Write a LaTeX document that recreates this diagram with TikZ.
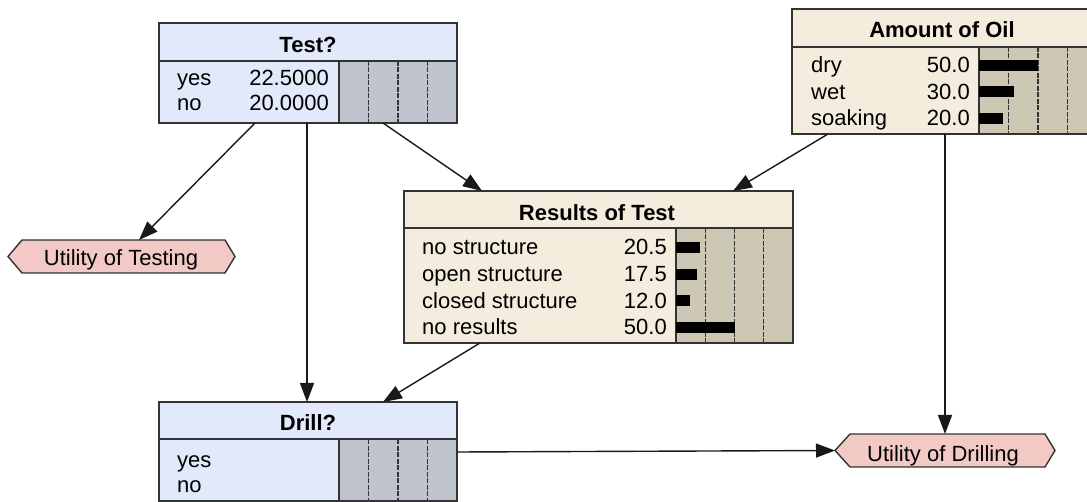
\documentclass[tikz,border=0pt]{standalone}
\usepackage{fontspec}
\setmainfont{Liberation Sans}
\usetikzlibrary{arrows.meta,calc}
\definecolor{decfill}{HTML}{E2E9FA}
\definecolor{decbar}{HTML}{BEC3CD}
\definecolor{chfill}{HTML}{F4EDDD}
\definecolor{chbar}{HTML}{CDC8B4}
\definecolor{utfill}{HTML}{F2C9C4}
\definecolor{edgec}{HTML}{333333}
\begin{document}
\begin{tikzpicture}[x=1pt,y=-1pt,
  box/.style={draw=edgec, line width=1.4pt, anchor=north west, inner sep=0pt, outer sep=0pt},
  frame/.style={draw=edgec, line width=1.4pt},
  ttl/.style={font=\fontsize{22}{26}\selectfont\bfseries, anchor=base, inner sep=0pt},
  lbl/.style={font=\fontsize{22}{26}\selectfont, anchor=base west, inner sep=0pt},
  val/.style={font=\fontsize{22}{26}\selectfont, anchor=base east, inner sep=0pt},
  gridln/.style={draw=edgec, line width=1.4pt, dash pattern=on 5pt off 1.5pt},
  barf/.style={fill=black},
  link/.style={draw=black!90, line width=1.4pt, -{Triangle[length=19pt,width=14pt]}},
  utbox/.style={inner sep=0pt, outer sep=0pt, anchor=north west, minimum height=33pt},
]
\useasboundingbox (0,0) rectangle (1087,502);
\clip (0,0) rectangle (1087,502);

% ---------- Test? ----------
\node[box, fill=decfill, minimum width=298pt, minimum height=100pt] (test) at (159,23) {};
\fill[decbar] (339,61) rectangle (457,123);
\draw[gridln] (368.5,61) -- (368.5,123) (398,61) -- (398,123) (427.5,61) -- (427.5,123);
\draw[frame] (159,61) -- (457,61) (339,61) -- (339,123);
\draw[frame] (test.north west) rectangle (test.south east);
\node[ttl] (testt) at (308,53) {Test?};
\node[lbl] (testl1) at (177,86) {yes};
\node[val] (testv1) at (329,86) {22.5000};
\node[lbl] (testl2) at (177,111) {no};
\node[val] (testv2) at (329,111) {20.0000};

% ---------- Drill? ----------
\node[box, fill=decfill, minimum width=298pt, minimum height=99pt] (drill) at (159,402) {};
\fill[decbar] (339,439) rectangle (457,501);
\draw[gridln] (368.5,439) -- (368.5,501) (398,439) -- (398,501) (427.5,439) -- (427.5,501);
\draw[frame] (159,439) -- (457,439) (339,439) -- (339,501);
\draw[frame] (drill.north west) rectangle (drill.south east);
\node[ttl] (drillt) at (308,431) {Drill?};
\node[lbl] (drilll1) at (177,467) {yes};
\node[lbl] (drilll2) at (177,492) {no};

% ---------- Amount of Oil ----------
\node[box, fill=chfill, minimum width=305pt, minimum height=125pt] (oil) at (792,9) {};
\fill[chbar] (979,47) rectangle (1097,134);
\draw[gridln] (1008.5,47) -- (1008.5,134) (1038,47) -- (1038,134) (1067.5,47) -- (1067.5,134);
\draw[frame] (792,47) -- (1097,47) (979,47) -- (979,134);
\draw[frame] (oil.north west) rectangle (oil.south east);
\node[ttl] (oilt) at (942,38) {Amount of Oil};
\node[lbl] (oill1) at (811,73) {dry};
\node[val] (oilv1) at (970,73) {50.0};
\node[lbl] (oill2) at (811,99.5) {wet};
\node[val] (oilv2) at (970,99.5) {30.0};
\node[lbl] (oill3) at (811,126) {soaking};
\node[val] (oilv3) at (970,126) {20.0};
\fill[barf] (979,60) rectangle (1038,71);
\fill[barf] (979,86.5) rectangle (1014.4,97.5);
\fill[barf] (979,113) rectangle (1002.6,124);

% ---------- Results of Test ----------
\node[box, fill=chfill, minimum width=389pt, minimum height=152pt] (results) at (404,191) {};
\fill[chbar] (676,228) rectangle (793,343);
\draw[gridln] (705.25,228) -- (705.25,343) (734.5,228) -- (734.5,343) (763.75,228) -- (763.75,343);
\draw[frame] (404,228) -- (793,228) (676,228) -- (676,343);
\draw[frame] (results.north west) rectangle (results.south east);
\node[ttl] (rest) at (597,221) {Results of Test};
\node[lbl] (resl1) at (422,255) {no structure};
\node[val] (resv1) at (667,255) {20.5};
\node[lbl] (resl2) at (422,281.7) {open structure};
\node[val] (resv2) at (667,281.7) {17.5};
\node[lbl] (resl3) at (422,308.3) {closed structure};
\node[val] (resv3) at (667,308.3) {12.0};
\node[lbl] (resl4) at (422,335) {no results};
\node[val] (resv4) at (667,335) {50.0};
\fill[barf] (676,242) rectangle (700,253);
\fill[barf] (676,268.7) rectangle (696.5,279.7);
\fill[barf] (676,295.3) rectangle (690,306.3);
\fill[barf] (676,322) rectangle (734.5,333);

% ---------- Utility of Testing ----------
\node[utbox, minimum width=203pt] (ut) at (22,240) {};
\draw[frame, fill=utfill] (ut.north west) -- (ut.north east) -- ([xshift=10pt]ut.east)
  -- (ut.south east) -- (ut.south west) -- ([xshift=-14pt]ut.west) -- cycle;
\node[lbl, anchor=base] (utt) at (121,266) {Utility of Testing};

% ---------- Utility of Drilling ----------
\node[utbox, minimum width=195pt] (ud) at (850,434) {};
\draw[frame, fill=utfill] (ud.north west) -- (ud.north east) -- ([xshift=10pt]ud.east)
  -- (ud.south east) -- (ud.south west) -- ([xshift=-15pt]ud.west) -- cycle;
\node[lbl, anchor=base] (udt) at (943,461) {Utility of Drilling};

% ---------- connectors ----------
\draw[link] ([xshift=96pt]test.south west) -- ([xshift=117pt]ut.north west);
\draw[link] ([xshift=148pt]test.south west) -- ([xshift=148pt]drill.north west);
\draw[link] ([xshift=224pt]test.south west) -- ([xshift=78pt]results.north west);
\draw[link] ([xshift=36pt]oil.south west) -- ([xshift=329pt]results.north west);
\draw[link] ([xshift=153pt]oil.south west) -- ([xshift=95pt]ud.north west);
\draw[link] ([xshift=76pt]results.south west) -- ([xshift=224pt]drill.north west);
\draw[link] ([yshift=-0.5pt]drill.east) -- ([xshift=-15pt]ud.west);
\end{tikzpicture}
\end{document}
